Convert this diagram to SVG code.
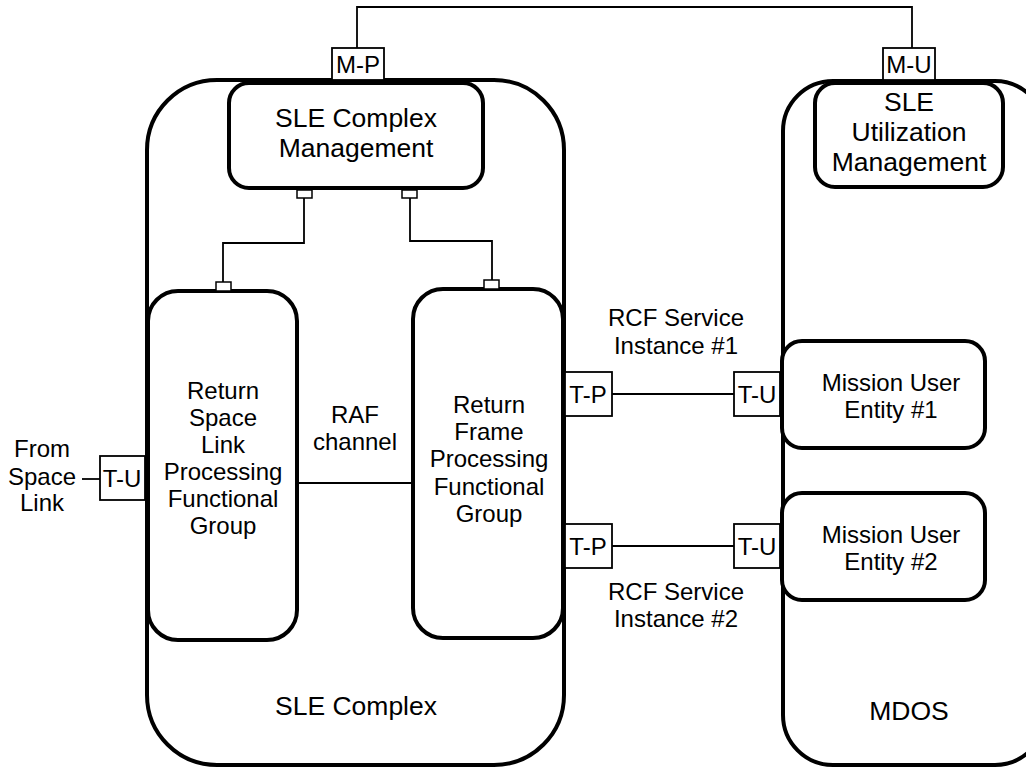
<svg xmlns="http://www.w3.org/2000/svg" width="1026" height="769" viewBox="0 0 1026 769">
<style>
.big{fill:#fff;stroke:#000;stroke-width:4}
.box{fill:#fff;stroke:#000;stroke-width:4}
.port{fill:#fff;stroke:#000;stroke-width:1.8}
.sm{fill:#fff;stroke:#000;stroke-width:1.5}
.ln{fill:none;stroke:#000;stroke-width:1.8}
text{font-family:"Liberation Sans",Arial,sans-serif;font-size:24px;fill:#000;text-anchor:middle}
.l{font-size:26.5px}
</style>
<rect width="1026" height="769" fill="#fff"/>
<g id="sle-complex">
<rect class="big" x="147" y="80" width="417" height="685" rx="70"/>
<text class="l" x="356" y="715">SLE Complex</text>
</g>
<g id="mdos">
<rect class="big" x="783" y="81" width="262" height="684" rx="50"/>
<text class="l" x="909" y="720">MDOS</text>
</g>
<g id="sle-complex-mgmt">
<rect class="box" x="229" y="83" width="254" height="105" rx="20"/>
<text class="l" x="356" y="127">SLE Complex</text>
<text class="l" x="356" y="157">Management</text>
</g>
<g id="sle-util-mgmt">
<rect class="box" x="815" y="83" width="188" height="104" rx="20"/>
<text class="l" x="909" y="111">SLE</text>
<text class="l" x="909" y="141">Utilization</text>
<text class="l" x="909" y="171">Management</text>
</g>
<g id="return-space-link">
<rect class="box" x="148" y="291" width="149" height="349" rx="30"/>
<text x="223" y="399">Return</text>
<text x="223" y="426">Space</text>
<text x="223" y="453">Link</text>
<text x="223" y="480">Processing</text>
<text x="223" y="507">Functional</text>
<text x="223" y="534">Group</text>
</g>
<g id="return-frame">
<rect class="box" x="413" y="289" width="150" height="349" rx="30"/>
<text x="489" y="413">Return</text>
<text x="489" y="440">Frame</text>
<text x="489" y="467">Processing</text>
<text x="489" y="495">Functional</text>
<text x="489" y="522">Group</text>
</g>
<g id="mission-user-1">
<rect class="box" x="782" y="341" width="203" height="107" rx="20"/>
<text x="891" y="391">Mission User</text>
<text x="891" y="418">Entity #1</text>
</g>
<g id="mission-user-2">
<rect class="box" x="782" y="493" width="203" height="107" rx="20"/>
<text x="891" y="543">Mission User</text>
<text x="891" y="570">Entity #2</text>
</g>
<g id="connectors">
<path class="ln" d="M357,48 V7 H912 V48"/>
<path class="ln" d="M304,198 V243 H223 V282"/>
<path class="ln" d="M410,198 V241 H492 V280"/>
<path class="ln" d="M297,483 H413"/>
<path class="ln" d="M612,394 H734"/>
<path class="ln" d="M612,546 H734"/>
<path class="ln" d="M82,479 H100"/>
<rect class="sm" x="297" y="190" width="15" height="8"/>
<rect class="sm" x="402" y="190" width="15" height="8"/>
<rect class="sm" x="216" y="282" width="15" height="9"/>
<rect class="sm" x="484" y="280" width="15" height="9"/>
</g>
<g id="port-mp">
<rect class="port" x="332" y="48" width="52" height="32"/>
<text x="358" y="73">M-P</text>
</g>
<g id="port-mu">
<rect class="port" x="883" y="48" width="52" height="32"/>
<text x="909" y="73">M-U</text>
</g>
<g id="port-tu-left">
<rect class="port" x="100" y="456" width="45" height="44"/>
<text x="122" y="487">T-U</text>
</g>
<g id="port-tp1">
<rect class="port" x="565" y="372" width="47" height="44"/>
<text x="588" y="403">T-P</text>
</g>
<g id="port-tp2">
<rect class="port" x="565" y="524" width="47" height="44"/>
<text x="588" y="555">T-P</text>
</g>
<g id="port-tu1">
<rect class="port" x="734" y="372" width="46" height="44"/>
<text x="757" y="403">T-U</text>
</g>
<g id="port-tu2">
<rect class="port" x="734" y="524" width="46" height="44"/>
<text x="757" y="555">T-U</text>
</g>
<g id="labels">
<text x="42" y="457">From</text>
<text x="42" y="485">Space</text>
<text x="42" y="511">Link</text>
<text x="355" y="423">RAF</text>
<text x="355" y="450">channel</text>
<text x="676" y="326">RCF Service</text>
<text x="676" y="354">Instance #1</text>
<text x="676" y="600">RCF Service</text>
<text x="676" y="627">Instance #2</text>
</g>
</svg>
